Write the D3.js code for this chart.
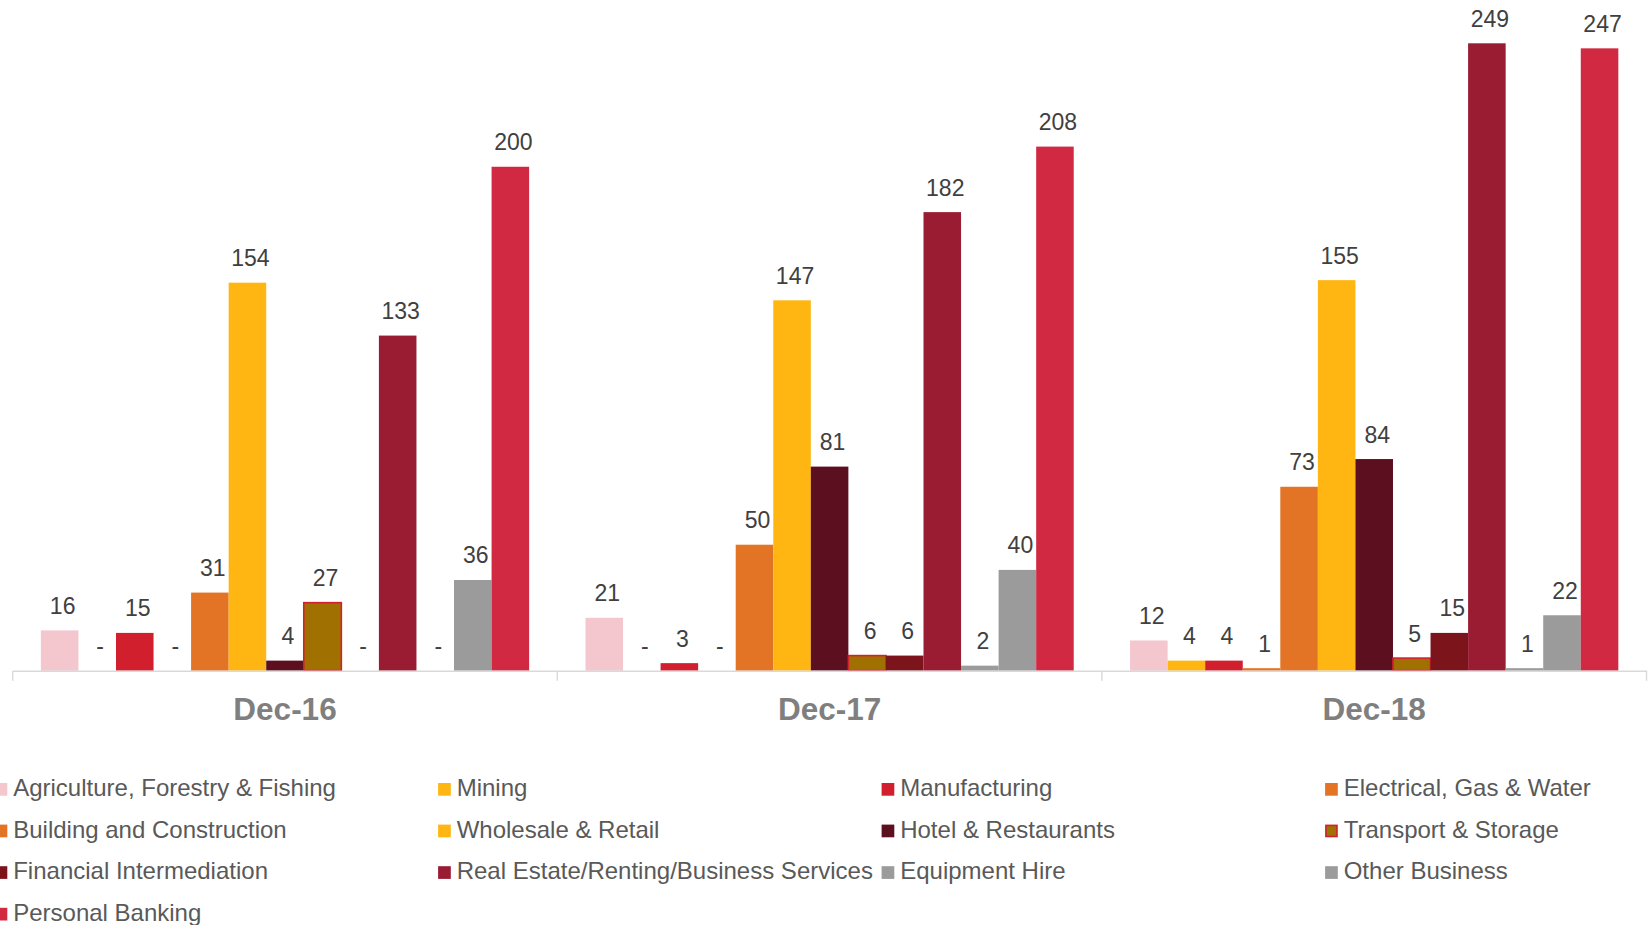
<!DOCTYPE html>
<html>
<head>
<meta charset="utf-8">
<script src="https://cdn.jsdelivr.net/npm/d3@7"></script>
<style>
  html, body { margin: 0; padding: 0; background: #fff; }
  svg { display: block; font-family: "Liberation Sans", Arial, sans-serif; }
</style>
</head>
<body>
<div id="chart"></div>
<script>
// categories and series
var groups = ["Dec-16", "Dec-17", "Dec-18"];
var sectors = [
  "Agriculture, Forestry & Fishing", "Mining", "Manufacturing", "Electrical, Gas & Water",
  "Building and Construction", "Wholesale & Retail", "Hotel & Restaurants", "Transport & Storage",
  "Financial Intermediation", "Real Estate/Renting/Business Services", "Equipment Hire",
  "Other Business", "Personal Banking"
];
var colors = ["#F4C7CE", "#FFB612", "#D11F2E", "#E37325", "#E37325", "#FFB612", "#5C0F1E",
  "#A07000", "#7C141C", "#9A1C32", "#9B9B9B", "#9B9B9B", "#D22942"];

// values per group, in sector order
var dec16 = [16, 0, 15, 0, 31, 154, 4, 27, 0, 133, 0, 36, 200];
var dec17 = [21, 0, 3, 0, 50, 147, 81, 6, 6, 182, 2, 40, 208];
var dec18 = [12, 4, 4, 1, 73, 155, 84, 5, 15, 249, 1, 22, 247];
var values = [dec16, dec17, dec18];

var width = 1648, height = 925;
var svg = d3.select("#chart").append("svg")
    .attr("width", width)
    .attr("height", height);

var x0 = d3.scaleBand().domain(groups).range([12.7, 1646.5]);
var x1 = d3.scaleBand().domain(sectors).range([0, x0.bandwidth()])
    .paddingInner(0).paddingOuter(0.75);
var y = d3.scaleLinear().domain([0, 249]).range([670.7, 43.3]);

var rows = [];
groups.forEach(function(g, gi) {
    sectors.forEach(function(s, si) {
        rows.push({group: g, sector: s, idx: si, value: values[gi][si]});
    });
});

// bars
svg.append("g").selectAll("rect")
    .data(rows)
    .enter().append("rect")
    .attr("x", function(d) { return x0(d.group) + x1(d.sector); })
    .attr("y", function(d) { return y(d.value); })
    .attr("width", x1.bandwidth())
    .attr("height", function(d) { return y(0) - y(d.value); })
    .attr("fill", function(d) { return colors[d.idx]; })
    .attr("stroke", function(d) { return d.idx == 7 ? "#D2202F" : "none"; })
    .attr("stroke-width", 1.6);

// data labels
svg.append("g").selectAll("text")
    .data(rows)
    .enter().append("text")
    .attr("x", function(d) { return x0(d.group) + x1(d.sector) + x1.bandwidth() / 2 + 3; })
    .attr("y", function(d) { return y(d.value) - 16.5; })
    .attr("text-anchor", "middle")
    .style("font-size", "23px")
    .style("fill", "#404040")
    .text(function(d) { return d.value == 0 ? "-" : d.value; });

// x axis
var axis = svg.append("g")
    .attr("transform", "translate(0," + y(0) + ")")
    .call(d3.axisBottom(x0).tickSize(0).tickPadding(0));
axis.select(".domain").attr("stroke", "#D9D9D9").attr("stroke-width", 1.4);
axis.selectAll("text")
    .attr("y", 49.5).attr("dy", null)
    .style("font-family", "'Liberation Sans', Arial, sans-serif")
    .style("font-size", "31.5px")
    .style("font-weight", "bold")
    .style("fill", "#7F7F7F");

var edges = groups.map(function(g) { return x0(g); }).concat([x0.range()[1]]);
axis.selectAll("line.edge")
    .data(edges)
    .enter().append("line")
    .attr("class", "edge")
    .attr("x1", function(d) { return d; })
    .attr("x2", function(d) { return d; })
    .attr("y1", 0)
    .attr("y2", 10)
    .attr("stroke", "#D9D9D9")
    .attr("stroke-width", 1.4);

// legend
var legend = svg.append("g").selectAll("g")
    .data(sectors)
    .enter().append("g")
    .attr("transform", function(d, i) {
        return "translate(" + (-5.4 + (i % 4) * 443.5) + "," + (796 + Math.floor(i / 4) * 41.6) + ")";
    });
legend.append("rect")
    .attr("x", function(d, i) { return i == 7 ? 0.8 : 0; })
    .attr("y", function(d, i) { return i == 7 ? -12.2 : -13; })
    .attr("width", function(d, i) { return i == 7 ? 11.1 : 12.7; })
    .attr("height", function(d, i) { return i == 7 ? 11.1 : 12.7; })
    .attr("fill", function(d, i) { return colors[i]; })
    .attr("stroke", function(d, i) { return i == 7 ? "#D2202F" : "none"; })
    .attr("stroke-width", 1.6);
legend.append("text")
    .attr("x", 18.6)
    .attr("y", 0)
    .style("font-size", "24px")
    .style("fill", "#595959")
    .text(function(d) { return d; });
</script>
</body>
</html>
